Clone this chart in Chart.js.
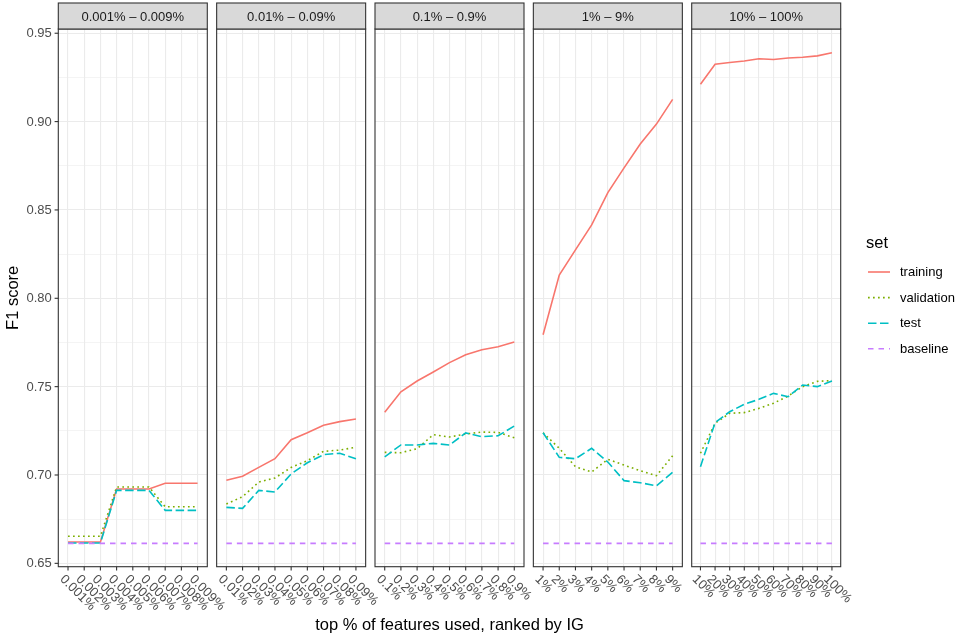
<!DOCTYPE html>
<html>
<head>
<meta charset="utf-8">
<title>F1 score by top % of features</title>
<script src="https://cdn.jsdelivr.net/npm/chart.js@4.4.1/dist/chart.umd.min.js"></script>
<style>
  html, body { margin: 0; padding: 0; background: #fff; }
  #wrap { position: relative; width: 959px; height: 639px; }
  #wrap canvas { position: absolute; left: 0; top: 0; }
</style>
</head>
<body>
<div id="wrap"></div>
<script>
// ---- data ----
var setNames = ['training', 'validation', 'test', 'baseline'];
var legendTitle = 'set';
var yAxisTitle = 'F1 score';
var xAxisTitle = 'top % of features used, ranked by IG';

var facetTitles = ['0.001% \u2013 0.009%', '0.01% \u2013 0.09%', '0.1% \u2013 0.9%', '1% \u2013 9%', '10% \u2013 100%'];

var yTicks = [0.65, 0.70, 0.75, 0.80, 0.85, 0.90, 0.95];
var yTickLabels = ['0.65', '0.70', '0.75', '0.80', '0.85', '0.90', '0.95'];
var yMinorTicks = [0.675, 0.725, 0.775, 0.825, 0.875, 0.925];

var facet1Ticks = ['0.001%', '0.002%', '0.003%', '0.004%', '0.005%', '0.006%', '0.007%', '0.008%', '0.009%'];
var facet1Training = [0.6621, 0.6621, 0.6621, 0.6921, 0.6921, 0.6921, 0.6953, 0.6953, 0.6953];
var facet1Validation = [0.6653, 0.6653, 0.6653, 0.6932, 0.6932, 0.6932, 0.6820, 0.6820, 0.6820];
var facet1Test = [0.6615, 0.6615, 0.6615, 0.6913, 0.6913, 0.6913, 0.6800, 0.6800, 0.6800];
var facet1Baseline = [0.6613, 0.6613, 0.6613, 0.6613, 0.6613, 0.6613, 0.6613, 0.6613, 0.6613];

var facet2Ticks = ['0.01%', '0.02%', '0.03%', '0.04%', '0.05%', '0.06%', '0.07%', '0.08%', '0.09%'];
var facet2Training = [0.6970, 0.6993, 0.7043, 0.7092, 0.7200, 0.7239, 0.7281, 0.7302, 0.7317];
var facet2Validation = [0.6836, 0.6877, 0.6960, 0.6983, 0.7043, 0.7081, 0.7134, 0.7141, 0.7157];
var facet2Test = [0.6817, 0.6811, 0.6913, 0.6904, 0.7006, 0.7069, 0.7115, 0.7123, 0.7092];
var facet2Baseline = [0.6613, 0.6613, 0.6613, 0.6613, 0.6613, 0.6613, 0.6613, 0.6613, 0.6613];

var facet3Ticks = ['0.1%', '0.2%', '0.3%', '0.4%', '0.5%', '0.6%', '0.7%', '0.8%', '0.9%'];
var facet3Training = [0.7355, 0.7471, 0.7532, 0.7583, 0.7636, 0.7681, 0.7709, 0.7726, 0.7753];
var facet3Validation = [0.7128, 0.7126, 0.7149, 0.7228, 0.7215, 0.7232, 0.7243, 0.7241, 0.7211];
var facet3Test = [0.7103, 0.7170, 0.7170, 0.7179, 0.7170, 0.7238, 0.7217, 0.7222, 0.7277];
var facet3Baseline = [0.6613, 0.6613, 0.6613, 0.6613, 0.6613, 0.6613, 0.6613, 0.6613, 0.6613];

var facet4Ticks = ['1%', '2%', '3%', '4%', '5%', '6%', '7%', '8%', '9%'];
var facet4Training = [0.7794, 0.8132, 0.8274, 0.8415, 0.8598, 0.8738, 0.8873, 0.8986, 0.9126];
var facet4Validation = [0.7239, 0.7151, 0.7047, 0.7017, 0.7089, 0.7056, 0.7024, 0.6996, 0.7109];
var facet4Test = [0.7239, 0.7100, 0.7092, 0.7151, 0.7073, 0.6968, 0.6956, 0.6939, 0.7015];
var facet4Baseline = [0.6613, 0.6613, 0.6613, 0.6613, 0.6613, 0.6613, 0.6613, 0.6613, 0.6613];

var facet5Ticks = ['10%', '20%', '30%', '40%', '50%', '60%', '70%', '80%', '90%', '100%'];
var facet5Training = [0.9211, 0.9325, 0.9334, 0.9343, 0.9356, 0.9351, 0.9360, 0.9364, 0.9372, 0.9390];
var facet5Validation = [0.7123, 0.7293, 0.7349, 0.7353, 0.7377, 0.7406, 0.7447, 0.7500, 0.7530, 0.7534];
var facet5Test = [0.7047, 0.7296, 0.7358, 0.7400, 0.7428, 0.7462, 0.7443, 0.7509, 0.7500, 0.7532];
var facet5Baseline = [0.6613, 0.6613, 0.6613, 0.6613, 0.6613, 0.6613, 0.6613, 0.6613, 0.6613, 0.6613];

// ---- look ----
var setColors = ['#F8766D', '#7CAE00', '#00BFC4', '#C77CFF'];
var setDashes = [[], [1.7, 3.3], [8.5, 3.5], [5.5, 5]];
var lineW = 1.6;
var fontFamily = '"Liberation Sans", Arial, Helvetica, sans-serif';

var yMin = 0.6481, yMax = 0.9524;
var panelLeft = 58.3, panelWidth = 149, panelStep = 158.35;
var panelTop = 29, panelBottom = 566.7, stripTop = 3;
var W = 959, H = 639;

var wrap = document.getElementById('wrap');

// draws the strip, panel border, axis ticks/labels, titles and legend
var facetDecor = {
  id: 'facetDecor',
  afterDraw: function(chart, args, opts) {
    var ctx = chart.ctx;
    var a = chart.chartArea;
    var xs = chart.scales.x, ys = chart.scales.y;
    ctx.save();

    ctx.strokeStyle = '#333333';
    ctx.lineWidth = 1.1;
    ctx.strokeRect(a.left, a.top, a.right - a.left, a.bottom - a.top);

    // strip
    ctx.fillStyle = '#D9D9D9';
    ctx.fillRect(a.left, stripTop, a.right - a.left, a.top - stripTop);
    ctx.strokeRect(a.left, stripTop, a.right - a.left, a.top - stripTop);
    ctx.fillStyle = '#1A1A1A';
    ctx.font = '13px ' + fontFamily;
    ctx.textAlign = 'center';
    ctx.textBaseline = 'middle';
    ctx.fillText(opts.title, (a.left + a.right) / 2, (stripTop + a.top) / 2 + 1);

    // x ticks
    opts.labels.forEach(function(lab, i) {
      var x = xs.getPixelForValue(i);
      ctx.strokeStyle = '#333333';
      ctx.beginPath();
      ctx.moveTo(x, a.bottom);
      ctx.lineTo(x, a.bottom + 3.7);
      ctx.stroke();
      ctx.save();
      ctx.translate(x - 1.5, a.bottom + 6);
      ctx.rotate(Math.PI / 4);
      ctx.fillStyle = '#4D4D4D';
      ctx.textAlign = 'left';
      ctx.textBaseline = 'top';
      ctx.fillText(lab, 0, 0);
      ctx.restore();
    });

    if (opts.first) {
      ctx.textAlign = 'right';
      ctx.textBaseline = 'middle';
      yTicks.forEach(function(v, i) {
        var y = ys.getPixelForValue(v);
        ctx.strokeStyle = '#333333';
        ctx.beginPath();
        ctx.moveTo(a.left - 3.7, y);
        ctx.lineTo(a.left, y);
        ctx.stroke();
        ctx.fillStyle = '#4D4D4D';
        ctx.fillText(yTickLabels[i], a.left - 6.5, y + 0.5);
      });
      ctx.fillStyle = '#000';
      ctx.font = '16.5px ' + fontFamily;
      ctx.save();
      ctx.translate(13, (a.top + a.bottom) / 2);
      ctx.rotate(-Math.PI / 2);
      ctx.textAlign = 'center';
      ctx.fillText(yAxisTitle, 0, 0);
      ctx.restore();
      ctx.textAlign = 'center';
      ctx.fillText(xAxisTitle, (panelLeft + panelLeft + 4 * panelStep + panelWidth) / 2, 625);
    }

    if (opts.last) {
      ctx.fillStyle = '#000';
      ctx.textAlign = 'left';
      ctx.textBaseline = 'middle';
      ctx.font = '16.5px ' + fontFamily;
      ctx.fillText(legendTitle, 866, 243);
      ctx.font = '13px ' + fontFamily;
      chart.data.datasets.forEach(function(ds, s) {
        var y = 272 + s * 25.6;
        ctx.strokeStyle = ds.borderColor;
        ctx.lineWidth = lineW;
        ctx.setLineDash(ds.borderDash);
        ctx.beginPath();
        ctx.moveTo(868, y);
        ctx.lineTo(890, y);
        ctx.stroke();
        ctx.setLineDash([]);
        ctx.fillText(ds.label, 900, y + 0.5);
      });
    }
    ctx.restore();
  }
};

function makeFacet(k, title, labels, series) {
  var canvas = document.createElement('canvas');
  canvas.width = W;
  canvas.height = H;
  wrap.appendChild(canvas);
  var left = panelLeft + k * panelStep;

  new Chart(canvas.getContext('2d'), {
    type: 'line',
    data: {
      datasets: series.map(function(vals, s) {
        return {
          label: setNames[s],
          data: vals.map(function(v, i) { return { x: i, y: v }; }),
          borderColor: setColors[s],
          borderDash: setDashes[s],
          borderWidth: lineW,
          pointRadius: 0,
          fill: false,
          tension: 0,
          order: 3 - s
        };
      })
    },
    options: {
      responsive: false,
      animation: false,
      events: [],
      layout: { padding: { left: left, right: W - left - panelWidth, top: panelTop, bottom: H - panelBottom } },
      plugins: {
        legend: { display: false },
        tooltip: { enabled: false },
        facetDecor: { title: title, labels: labels, first: k === 0, last: k === 4 }
      },
      scales: {
        x: {
          type: 'linear',
          min: -0.6,
          max: labels.length - 0.4,
          ticks: { display: false },
          grid: { color: '#EBEBEB', lineWidth: 1.1, drawTicks: false },
          border: { display: false },
          afterBuildTicks: function(sc) {
            sc.ticks = labels.map(function(l, i) { return { value: i }; });
          }
        },
        y: {
          min: yMin,
          max: yMax,
          ticks: { display: false },
          grid: {
            color: '#EBEBEB',
            drawTicks: false,
            lineWidth: function(c) { return yTicks.indexOf(c.tick.value) >= 0 ? 1.1 : 0.55; }
          },
          border: { display: false },
          afterBuildTicks: function(sc) {
            sc.ticks = yTicks.concat(yMinorTicks).map(function(v) { return { value: v }; });
          }
        }
      }
    },
    plugins: [facetDecor]
  });
}

makeFacet(0, facetTitles[0], facet1Ticks, [facet1Training, facet1Validation, facet1Test, facet1Baseline]);
makeFacet(1, facetTitles[1], facet2Ticks, [facet2Training, facet2Validation, facet2Test, facet2Baseline]);
makeFacet(2, facetTitles[2], facet3Ticks, [facet3Training, facet3Validation, facet3Test, facet3Baseline]);
makeFacet(3, facetTitles[3], facet4Ticks, [facet4Training, facet4Validation, facet4Test, facet4Baseline]);
makeFacet(4, facetTitles[4], facet5Ticks, [facet5Training, facet5Validation, facet5Test, facet5Baseline]);
</script>
</body>
</html>
